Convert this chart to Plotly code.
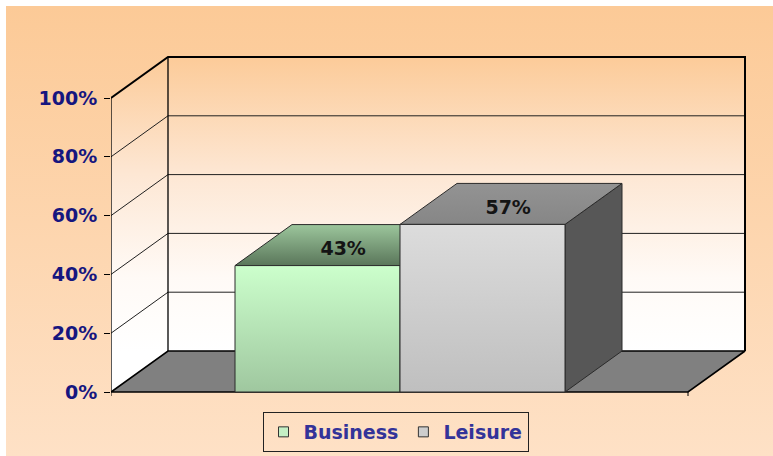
import plotly.graph_objects as go

# ---------------- data ----------------
categories = ["Business", "Leisure"]
values = [43, 57]
label_text = ["43%", "57%"]
ytick_vals = [0, 20, 40, 60, 80, 100]
ytick_text = ["0%", "20%", "40%", "60%", "80%", "100%"]

# ---------------- layout / style constants ----------------
W, H = 773, 456
PX = 2.94                      # pixels per percent
AX_LEFT, AX_RIGHT = 111, 760   # chart subplot horizontal extent (px)
AX_BOTTOM, AX_TOP = 410, 50    # chart subplot vertical extent (px from top)
ZERO_Y = 392                   # pixel row of 0%
DX = 57                        # depth offset, x units
DY = 41 / PX                   # depth offset, y units (%)
FLOOR_W = 577
BAR_X0 = 124
BAR_W = 165

FONT = "DejaVu Sans"
front_grad = [("#9fc79f", "#ccffcc"), ("#bfbfbf", "#dcdcdc")]   # bottom, top
top_grad = [("#5a765a", "#9cc69c"), ("#868686", "#939393")]     # front, back
side_col = ["#5a7a5a", "#575757"]
legend_col = ["#c4efc4", "#cdcdcd"]
EDGE = "#2a2a2a"

fig = go.Figure()

# ---------- background (full-figure axes) ----------
fig.add_trace(go.Scatter(
    x=[6, W, W, 6, 6], y=[0, 0, H - 6, H - 6, 0], mode="lines", fill="toself",
    line=dict(width=0), hoverinfo="skip", showlegend=False,
    fillgradient=dict(type="vertical", colorscale=[[0, "#fee1c6"], [1, "#fcca97"]],
                      start=0, stop=H - 6),
    xaxis="x", yaxis="y"))


def poly(xs, ys, color=None, grad=None, lw=1, lc=EDGE):
    kw = {}
    if grad is not None:
        kw["fillgradient"] = grad
    else:
        kw["fillcolor"] = color
    return go.Scatter(x=list(xs) + [xs[0]], y=list(ys) + [ys[0]], mode="lines",
                      fill="toself", line=dict(color=lc, width=lw),
                      hoverinfo="skip", showlegend=False, xaxis="x2", yaxis="y2", **kw)


def seg(xs, ys, lw=1, lc=EDGE):
    return go.Scatter(x=xs, y=ys, mode="lines", line=dict(color=lc, width=lw),
                      hoverinfo="skip", showlegend=False, xaxis="x2", yaxis="y2")


top_val = ytick_vals[-1]
wall_grad = dict(type="vertical",
                 colorscale=[[0, "#ffffff"], [0.25, "#fffaf6"], [0.6, "#fde7d4"], [1, "#fccb99"]],
                 start=DY, stop=top_val + DY)

# walls
fig.add_trace(poly([DX, DX + FLOOR_W, DX + FLOOR_W, DX], [DY, DY, top_val + DY, top_val + DY],
                   grad=wall_grad, lw=0))
fig.add_trace(poly([0, DX, DX, 0], [0, DY, top_val + DY, top_val], grad=wall_grad, lw=0))

# gridlines
for v in ytick_vals[1:-1]:
    fig.add_trace(seg([0, DX, DX + FLOOR_W], [v, v + DY, v + DY], lw=1, lc="#202020"))

# wall borders
fig.add_trace(seg([0, DX, DX + FLOOR_W, DX + FLOOR_W],
                  [top_val, top_val + DY, top_val + DY, DY], lw=2, lc="#000000"))
fig.add_trace(seg([DX, DX], [DY, top_val + DY], lw=1.3, lc="#000000"))
fig.add_trace(seg([0, 0], [0, top_val], lw=1.3, lc="#000000"))

# floor
fig.add_trace(poly([0, FLOOR_W, FLOOR_W + DX, DX], [0, 0, DY, DY], color="#808080",
                   lw=1.6, lc="#000000"))

# floor ticks
tk = 4 / PX
fig.add_trace(seg([0, 0, None, FLOOR_W, FLOOR_W], [0, -tk, None, 0, -tk], lw=1, lc="#000000"))

# bars
for i, v in enumerate(values):
    L = BAR_X0 + i * BAR_W
    R = L + BAR_W
    fig.add_trace(poly([R, R + DX, R + DX, R], [0, DY, v + DY, v], color=side_col[i]))
    fig.add_trace(poly([L, R, R + DX, L + DX], [v, v, v + DY, v + DY],
                       grad=dict(type="vertical",
                                 colorscale=[[0, top_grad[i][0]], [1, top_grad[i][1]]],
                                 start=v, stop=v + DY)))
    fig.add_trace(poly([L, R, R, L], [0, 0, v, v],
                       grad=dict(type="vertical",
                                 colorscale=[[0, front_grad[i][0]], [1, front_grad[i][1]]],
                                 start=0, stop=v)))

# value labels
fig.add_trace(go.Scatter(
    x=[BAR_X0 + i * BAR_W + BAR_W / 2 + 0.45 * DX for i in range(len(values))],
    y=[v + 15 / PX for v in values],
    text=label_text, mode="text", textposition="middle center",
    textfont=dict(family=FONT, size=19, color="#141414", weight="bold"),
    hoverinfo="skip", showlegend=False, cliponaxis=False, xaxis="x2", yaxis="y2"))

# legend entries
for name, col in zip(categories, legend_col):
    fig.add_trace(go.Scatter(
        x=[None], y=[None], mode="markers", name=name,
        marker=dict(symbol="square", size=10, color=col, line=dict(color="#333333", width=1)),
        xaxis="x2", yaxis="y2"))

fig.update_layout(
    width=W, height=H,
    margin=dict(l=0, r=0, t=0, b=0),
    paper_bgcolor="#ffffff", plot_bgcolor="rgba(0,0,0,0)",
    xaxis=dict(domain=[0, 1], range=[0, W], visible=False, fixedrange=True),
    yaxis=dict(domain=[0, 1], range=[0, H], visible=False, fixedrange=True),
    xaxis2=dict(domain=[AX_LEFT / W, AX_RIGHT / W], range=[0, AX_RIGHT - AX_LEFT],
                anchor="y2", visible=False, fixedrange=True),
    yaxis2=dict(domain=[(H - AX_BOTTOM) / H, (H - AX_TOP) / H],
                range=[-(AX_BOTTOM - ZERO_Y) / PX, (ZERO_Y - AX_TOP) / PX],
                anchor="x2", tickvals=ytick_vals, ticktext=ytick_text,
                ticks="outside", ticklen=6, tickwidth=1, tickcolor="#000000",
                showgrid=False, zeroline=False, showline=False, automargin=False,
                ticklabelstandoff=3,
                tickfont=dict(family=FONT, size=19, color="#16167f", weight="bold"),
                fixedrange=True),
    showlegend=True,
    legend=dict(orientation="h", x=(267 + 524) / 2 / W, xanchor="center",
                y=(H - 412) / H, yanchor="top", bgcolor="rgba(0,0,0,0)",
                bordercolor="#222222", borderwidth=1, itemwidth=30,
                font=dict(family=FONT, size=19, color="#333399", weight="bold")),
)

fig.write_html("out.html", config={"displayModeBar": False},
               post_script="document.body.style.margin='0';document.body.style.overflow='hidden';")
